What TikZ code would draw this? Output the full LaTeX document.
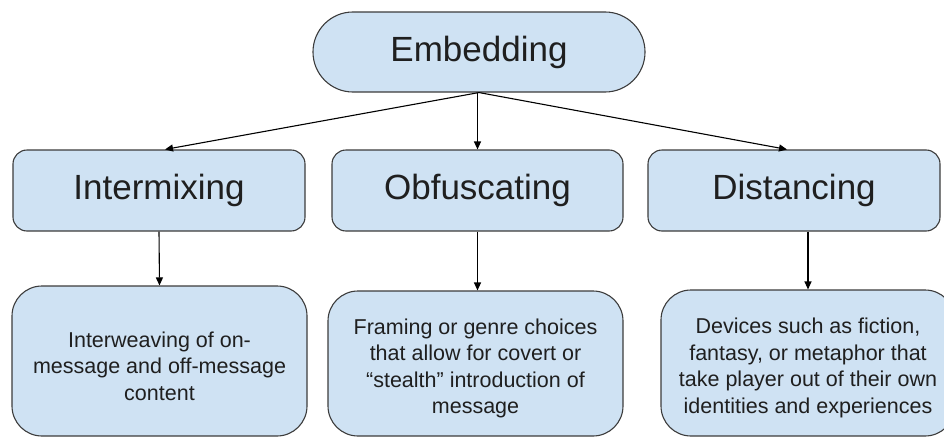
\documentclass[tikz,border=0pt]{standalone}
\usepackage{fontspec}
\setmainfont{Liberation Sans}
\usetikzlibrary{arrows.meta}
\definecolor{boxfill}{HTML}{CFE2F3}
\definecolor{boxline}{HTML}{3C3C3C}
\definecolor{txt}{HTML}{1F1F1F}
\newcommand{\topstrutx}{\rule{0pt}{25.7pt}}
\begin{document}
\begin{tikzpicture}[x=1pt,y=-1pt,
  base/.style={draw=boxline,fill=boxfill,line width=1.1pt,inner sep=0pt,text=txt,align=center},
  bigbox/.style={base,minimum width=#1,minimum height=81pt,rounded corners=14pt,font=\fontsize{35}{42}\selectfont},
  smallbox/.style={base,minimum width=295pt,rounded corners=30pt,font=\fontsize{21.5}{26.5}\selectfont},
  conn/.style={draw=black,line width=1.1pt,-{Triangle[length=8pt,width=7pt]}}]
\useasboundingbox (0,0) rectangle (944,439);
\node[base,minimum width=332pt,minimum height=80pt,rounded corners=39.9pt,font=\fontsize{35}{42}\selectfont] (emb) at (479,52) {Embedding};
\node[bigbox=292pt] (int) at (159,190.5) {Intermixing};
\node[bigbox=291pt] (obf) at (477.5,190.5) {Obfuscating};
\node[bigbox=292pt] (dis) at (794,190.5) {Distancing};
\node[smallbox,minimum height=150pt] (b1) at (159.5,361) {\topstrutx Interweaving of on-\\message and off-message\\content};
\node[smallbox,minimum height=145pt] (b2) at (475.5,363.5) {\topstrutx Framing or genre choices\\that allow for covert or\\“stealth” introduction of\\message};
\node[smallbox,minimum width=294pt,minimum height=146pt] (b3) at (808,363) {\topstrutx Devices such as fiction,\\fantasy, or metaphor that\\take player out of their own\\identities and experiences};
\coordinate (t1) at ([xshift=6pt]int.north);
\coordinate (t3) at ([xshift=-7pt]dis.north);
\draw[conn] (emb.south) -- (t1);
\draw[conn] (obf.north |- emb.south) -- (obf.north);
\draw[conn] (emb.south) -- (t3);
\draw[conn] (int.south) -- (b1.north);
\draw[conn] (obf.south) -- (obf.south |- b2.north);
\draw[conn] (b3.north |- dis.south) -- (b3.north);
\end{tikzpicture}
\end{document}
